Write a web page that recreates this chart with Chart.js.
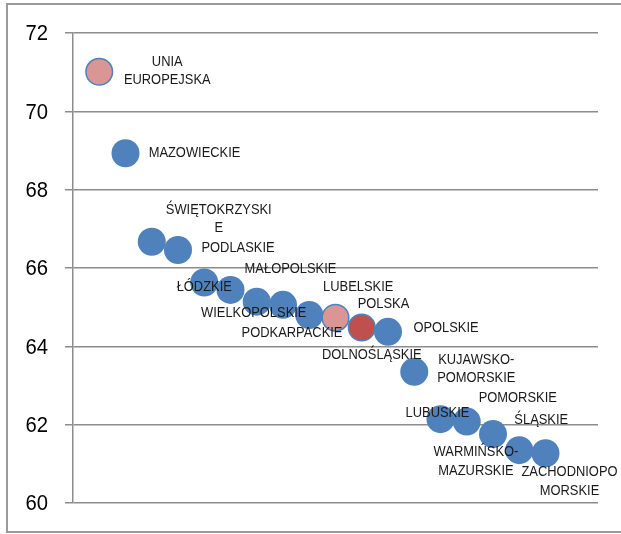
<!DOCTYPE html>
<html>
<head>
<meta charset="utf-8">
<script src="https://cdn.jsdelivr.net/npm/chart.js@4/dist/chart.umd.min.js"></script>
<style>
    html, body { margin: 0; padding: 0; background: #fff; }
    #wrap { width: 621px; height: 534px; position: relative; }
</style>
</head>
<body>
<div id="wrap"><canvas id="regionChart"></canvas></div>
<script>
// data
const regions = ["UNIA EUROPEJSKA", "MAZOWIECKIE", "ŚWIĘTOKRZYSKIE", "PODLASKIE", "ŁÓDZKIE",
    "MAŁOPOLSKIE", "WIELKOPOLSKIE", "PODKARPACKIE", "LUBELSKIE", "POLSKA", "DOLNOŚLĄSKIE",
    "OPOLSKIE", "KUJAWSKO-POMORSKIE", "LUBUSKIE", "POMORSKIE", "WARMIŃSKO-MAZURSKIE",
    "ŚLĄSKIE", "ZACHODNIOPOMORSKIE"];
const positions = [1, 2, 3, 4, 5, 6, 7, 8, 9, 10, 11, 12, 13, 14, 15, 16, 17, 18];
const values = [71.01, 68.93, 66.67, 66.46, 65.63, 65.44, 65.14, 65.06, 64.80, 64.73,
    64.48, 64.37, 63.35, 62.14, 62.08, 61.76, 61.35, 61.27];
const yTicks = [60, 62, 64, 66, 68, 70, 72];

// how each label is wrapped and where it sits next to its point (px)
const labelLines = [["UNIA", "EUROPEJSKA"], ["MAZOWIECKIE"], ["ŚWIĘTOKRZYSKI", "E"], ["PODLASKIE"],
    ["ŁÓDZKIE"], ["MAŁOPOLSKIE"], ["WIELKOPOLSKIE"], ["PODKARPACKIE"], ["LUBELSKIE"], ["POLSKA"],
    ["DOLNOŚLĄSKIE"], ["OPOLSKIE"], ["KUJAWSKO-", "POMORSKIE"], ["LUBUSKIE"], ["POMORSKIE"],
    ["WARMIŃSKO-", "MAZURSKIE"], ["ŚLĄSKIE"], ["ZACHODNIOPO", "MORSKIE"]];
const labelDx = [68, 69, 67, 60, 0, 60, -3, 9, 49, 48, 10, 58, 62, -3, 51, -17, 22, 24];
const labelDy = [-10, 0, -32, -2, 4, -21, 11, 28, -28, -14, 27, -4, -12, -6, -24, 18, -30, 19];

const BLUE = "#4F81BD";
const PINK = "#D99694";
const RED = "#C0504D";
const FONT = "'Liberation Sans', Arial, sans-serif";
const fillColors = regions.map((r, i) => i === 0 || i === 9 ? PINK : (i === 10 ? RED : BLUE));
const edgeColors = regions.map(() => BLUE);
const edgeWidths = regions.map((r, i) => (i === 0 || i === 9 || i === 10) ? 1.5 : 0);
const radii = regions.map((r, i) => (i === 0 || i === 9 || i === 10) ? 13.3 : 14);

// text in the picture is a bit narrow, so squeeze it horizontally
function narrowText(ctx, text, x, y, squeeze) {
    ctx.save();
    ctx.translate(x, y);
    ctx.scale(squeeze, 1);
    ctx.fillText(text, 0, 0);
    ctx.restore();
}

// outer frame (the right side is cut off in the picture)
const framePlugin = {
    id: "frame",
    beforeDraw(chart) {
        const ctx = chart.ctx;
        ctx.save();
        ctx.strokeStyle = "#9a9a9a";
        ctx.lineWidth = 2;
        ctx.beginPath();
        ctx.moveTo(chart.width + 2, 4);
        ctx.lineTo(7, 4);
        ctx.lineTo(7, 532);
        ctx.lineTo(chart.width + 2, 532);
        ctx.stroke();
        ctx.restore();
    }
};

// y tick labels and point labels
const labelPlugin = {
    id: "pointLabels",
    afterDatasetsDraw(chart) {
        const ctx = chart.ctx;
        const xs = chart.scales.x, ys = chart.scales.y;
        ctx.save();
        ctx.fillStyle = "#000";
        ctx.textAlign = "right";
        ctx.textBaseline = "middle";
        ctx.font = "22.5px " + FONT;
        yTicks.forEach(v => narrowText(ctx, String(v), 48, ys.getPixelForValue(v) + 1, 0.9));

        ctx.font = "15px " + FONT;
        ctx.fillStyle = "#1a1a1a";
        ctx.textAlign = "center";
        for (let i = 0; i < values.length; i++) {
            const px = xs.getPixelForValue(positions[i]);
            const py = ys.getPixelForValue(values[i]);
            labelLines[i].forEach((line, k) => {
                narrowText(ctx, line, px + labelDx[i], py + labelDy[i] + k * 18.5, 0.86);
            });
        }
        ctx.restore();
    }
};

const ctx = document.getElementById("regionChart").getContext("2d");
new Chart(ctx, {
    type: "scatter",
    data: {
        datasets: [{
            data: values.map((v, i) => ({ x: positions[i], y: v })),
            backgroundColor: fillColors,
            borderColor: edgeColors,
            borderWidth: edgeWidths,
            pointRadius: radii,
            pointHoverRadius: radii,
        }],
    },
    options: {
        responsive: true,
        maintainAspectRatio: false,
        animation: false,
        layout: { padding: { top: 33, bottom: 31, left: 0, right: 23 } },
        plugins: { legend: { display: false }, tooltip: { enabled: false } },
        scales: {
            x: { display: false, min: 0, max: 20 },
            y: {
                min: 60,
                max: 72,
                afterFit(scale) { scale.width = 73; },
                afterBuildTicks(scale) { scale.ticks = yTicks.map(v => ({ value: v })); },
                ticks: { display: false },
                grid: { color: "#8c8c8c", lineWidth: 1.5, tickLength: 8 },
                border: { display: true, color: "#8c8c8c", width: 1.5 },
            },
        },
    },
    plugins: [framePlugin, labelPlugin],
});
</script>
</body>
</html>
